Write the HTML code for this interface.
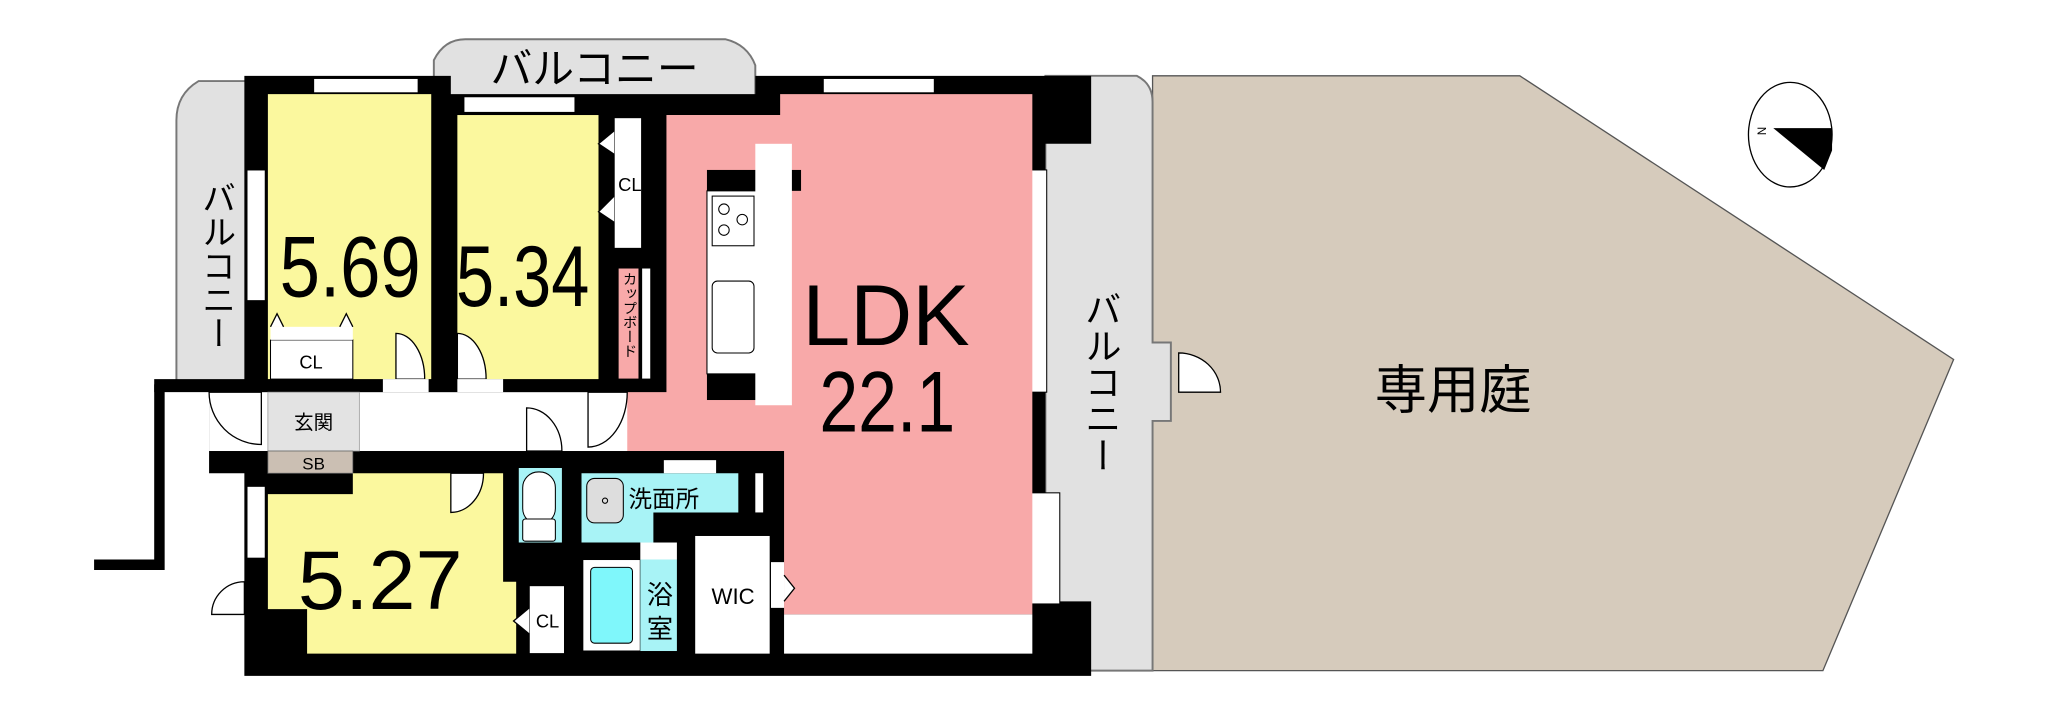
<!DOCTYPE html>
<html><head><meta charset="utf-8"><style>
html,body{margin:0;padding:0;background:#fff;}
svg{display:block;}
text{font-family:"Liberation Sans","Noto Sans CJK JP",sans-serif;fill:#000;}
</style></head><body>
<svg width="2049" height="702" viewBox="0 0 1568 537" preserveAspectRatio="none" xmlns="http://www.w3.org/2000/svg">
<polygon points="882,58 1163,58 1495,275 1395,513 882,513" fill="#d6cbbc" stroke="#555" stroke-width="1"/>
<path d="M190,62 L152,62 Q135,72 135,92 L135,292 L190,292 Z" fill="#e1e1e1" stroke="#777" stroke-width="1.5"/>
<path d="M332,74 L332,46 Q340,30 356,30 L555,30 Q572,34 578,50 L578,74 Z" fill="#e1e1e1" stroke="#777" stroke-width="1.5"/>
<path d="M800,58 L870,58 Q882,64 882,78 L882,262 L896,262 L896,322 L882,322 L882,513 L800,513 Z" fill="#e1e1e1" stroke="#777" stroke-width="1.5"/>
<path d="M902,270 A32,30 0 0 1 934,300 L902,300 Z" fill="#fff" stroke="#000" stroke-width="1"/>
<polygon points="187,58 345,58 345,72 578,72 578,58 835,58 835,110 800,110 800,460 835,460 835,517 187,517 187,362 160,362 160,300 118,300 118,290 187,290" fill="#000"/>
<polyline points="122,294 122,432 72,432" fill="none" stroke="#000" stroke-width="8"/>
<rect x="240" y="60" width="80" height="11" fill="#fff" stroke="#000" stroke-width="0.8"/>
<rect x="355" y="74" width="85" height="12" fill="#fff" stroke="#000" stroke-width="0.8"/>
<rect x="630" y="60" width="85" height="11" fill="#fff" stroke="#000" stroke-width="0.8"/>
<rect x="189" y="130" width="14" height="100" fill="#fff" stroke="#000" stroke-width="0.8"/>
<rect x="789" y="130" width="12" height="170" fill="#fff" stroke="#000" stroke-width="0.8"/>
<rect x="789" y="377" width="22" height="85" fill="#fff" stroke="#000" stroke-width="0.8"/>
<rect x="189" y="372" width="14" height="55" fill="#fff" stroke="#000" stroke-width="0.8"/>
<rect x="205" y="72" width="125" height="218" fill="#fbf89e"/>
<rect x="350" y="88" width="108" height="202" fill="#fbf89e"/>
<polygon points="510,88 597,88 597,72 790,72 790,470 600,470 600,345 478,345 478,300 510,300" fill="#f8a9a9"/>
<rect x="600" y="470" width="190" height="30" fill="#fff"/>
<rect x="207" y="260" width="63" height="30" fill="#fff" stroke="#000" stroke-width="0.8"/>
<rect x="207" y="250" width="63" height="10" fill="#fff"/>
<path d="M207,250 L212,240 L217,250 M260,250 L265,240 L270,250" fill="#fff" stroke="#000" stroke-width="1"/>
<rect x="470" y="90" width="21" height="100" fill="#fff" stroke="#000" stroke-width="0.8"/>
<path d="M470,100 L458,110 L470,118 M470,150 L458,162 L470,170" fill="#fff" stroke="#000" stroke-width="1"/>
<rect x="473" y="205" width="16" height="85" fill="#f8a9a9" stroke="#000" stroke-width="0.8"/>
<rect x="491" y="205" width="7" height="85" fill="#fff" stroke="#000" stroke-width="0.8"/>
<rect x="541" y="130" width="72" height="16" fill="#000"/>
<rect x="541" y="146" width="40" height="140" fill="#fff" stroke="#000" stroke-width="0.8"/>
<rect x="545" y="150" width="32" height="38" fill="#fff" stroke="#000" stroke-width="0.8"/>
<circle cx="554" cy="160" r="4" fill="none" stroke="#000" stroke-width="0.8"/>
<circle cx="568" cy="168" r="4" fill="none" stroke="#000" stroke-width="0.8"/>
<circle cx="554" cy="176" r="4" fill="none" stroke="#000" stroke-width="0.8"/>
<rect x="545" y="215" width="32" height="55" rx="4" fill="#fff" stroke="#000" stroke-width="0.8"/>
<rect x="541" y="286" width="38" height="20" fill="#000"/>
<rect x="578" y="110" width="28" height="200" fill="#fff"/>
<rect x="160" y="300" width="320" height="45" fill="#fff"/>
<rect x="205" y="300" width="70" height="45" fill="#e3e3e3" stroke="#999" stroke-width="0.6"/>
<rect x="205" y="345" width="65" height="17" fill="#cbbfb3" stroke="#666" stroke-width="0.6"/>
<path d="M160,300 L200,300 L200,340 A40,40 0 0 1 160,300 Z" fill="#fff" stroke="#000" stroke-width="1"/>
<path d="M480,300 L450,300 L450,342 A30,42 0 0 0 480,300 Z" fill="#fff" stroke="#000" stroke-width="1"/>
<path d="M403,312 L403,345 L430,345 A27,33 0 0 0 403,312 Z" fill="#fff" stroke="#000" stroke-width="1"/>
<path d="M303,290 L303,255 A22,35 0 0 1 325,290 Z" fill="#fff" stroke="#000" stroke-width="1"/>
<path d="M350,290 L350,255 A22,35 0 0 1 372,290 Z" fill="#fff" stroke="#000" stroke-width="1"/>
<rect x="293" y="290" width="35" height="10" fill="#fff"/>
<rect x="350" y="290" width="35" height="10" fill="#fff"/>
<polygon points="205,378 270,378 270,362 385,362 385,445 395,445 395,500 235,500 235,466 205,466" fill="#fbf89e"/>
<path d="M345,362 L345,392 A25,30 0 0 0 370,362 Z" fill="#fff" stroke="#000" stroke-width="1"/>
<path d="M187,445 L187,470 L162,470 A25,25 0 0 1 187,445 Z" fill="#fff" stroke="#000" stroke-width="1"/>
<rect x="397" y="358" width="33" height="57" fill="#a8f3f6"/>
<rect x="400" y="361" width="25" height="40" rx="12" fill="#fff" stroke="#000" stroke-width="0.8"/>
<rect x="400" y="397" width="25" height="17" rx="2" fill="#fff" stroke="#000" stroke-width="0.8"/>
<rect x="405" y="448" width="27" height="52" fill="#fff" stroke="#000" stroke-width="0.8"/>
<path d="M405,465 L393,475 L405,485" fill="#fff" stroke="#000" stroke-width="1"/>
<polygon points="445,362 565,362 565,392 500,392 500,415 445,415" fill="#a8f3f6"/>
<rect x="508" y="352" width="40" height="10" fill="#fff"/>
<rect x="449" y="366" width="28" height="34" rx="6" fill="#ddd" stroke="#000" stroke-width="0.8"/>
<circle cx="463" cy="383" r="2" fill="none" stroke="#000" stroke-width="0.8"/>
<rect x="578" y="362" width="6" height="30" fill="#fff"/>
<rect x="446" y="428" width="44" height="70" fill="#fff" stroke="#000" stroke-width="0.8"/>
<rect x="452" y="434" width="32" height="58" rx="3" fill="#7ff7fb" stroke="#000" stroke-width="0.8"/>
<rect x="490" y="428" width="28" height="70" fill="#a8f3f6"/>
<rect x="490" y="415" width="28" height="13" fill="#fff"/>
<rect x="532" y="410" width="57" height="90" fill="#fff"/>
<rect x="590" y="430" width="10" height="35" fill="#fff"/>
<path d="M600,440 L608,450 L600,460" fill="#fff" stroke="#000" stroke-width="1"/>
<ellipse cx="1370" cy="103" rx="32" ry="40" fill="#fff" stroke="#000" stroke-width="1"/>
<polygon points="1357,98 1402,98 1402,115 1396,130" fill="#000"/>
<text x="1345" y="103" font-size="9" transform="rotate(90 1348 100)">N</text>
<text x="214" y="227" font-size="66" textLength="108" lengthAdjust="spacingAndGlyphs">5.69</text>
<text x="349" y="234" font-size="66" textLength="102" lengthAdjust="spacingAndGlyphs">5.34</text>
<text x="614" y="264" font-size="66" textLength="128" lengthAdjust="spacingAndGlyphs">LDK</text>
<text x="627" y="330" font-size="66" textLength="104" lengthAdjust="spacingAndGlyphs">22.1</text>
<text x="228" y="466" font-size="64" textLength="126" lengthAdjust="spacingAndGlyphs">5.27</text>
<text x="238" y="282" font-size="14" text-anchor="middle">CL</text>
<text x="482" y="146" font-size="14" text-anchor="middle">CL</text>
<text x="419" y="480" font-size="14" text-anchor="middle">CL</text>
<text x="240" y="328" font-size="15" text-anchor="middle">玄関</text>
<text x="240" y="359" font-size="13" text-anchor="middle">SB</text>
<text x="508" y="388" font-size="18" text-anchor="middle">洗面所</text>
<text x="561" y="462" font-size="17" text-anchor="middle">WIC</text>
<text x="505" y="462" font-size="20" text-anchor="middle">浴</text>
<text x="505" y="488" font-size="20" text-anchor="middle">室</text>
<text x="455" y="64" font-size="32" text-anchor="middle">バルコニー</text>
<text x="165" y="138" font-size="26" writing-mode="vertical-rl">バルコニー</text>
<text x="842" y="222" font-size="28" writing-mode="vertical-rl">バルコニー</text>
<text x="481" y="208" font-size="11" writing-mode="vertical-rl">カップボード</text>
<text x="1112" y="312" font-size="40" text-anchor="middle">専用庭</text>
</svg>
</body></html>
